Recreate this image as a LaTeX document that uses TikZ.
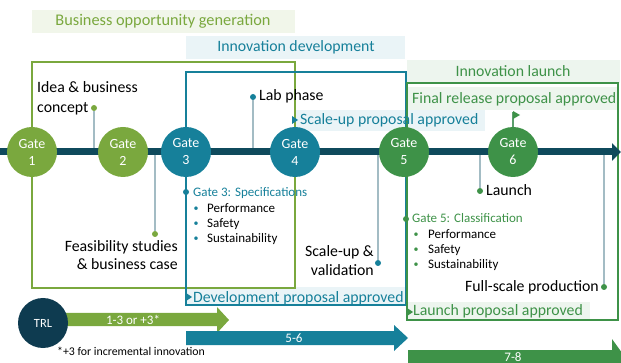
\documentclass[tikz,border=0pt]{standalone}
\usepackage{fontspec}
\setmainfont{Carlito}
\usetikzlibrary{arrows.meta}
\definecolor{lgreen}{HTML}{7AA83E}
\definecolor{tealc}{HTML}{16809A}
\definecolor{dgreen}{HTML}{3E9248}
\definecolor{navyl}{HTML}{0F4A5C}
\definecolor{trlc}{HTML}{0E3B50}
\definecolor{connc}{HTML}{A3BCC4}
\definecolor{bgG}{HTML}{F1F6EA}
\definecolor{bgB}{HTML}{EAF4F7}
\definecolor{bgD}{HTML}{EDF5EE}
\tikzset{
  gate/.style={circle, minimum size=50pt, inner sep=0pt, text=white, align=center, font=\fontsize{14}{17}\selectfont},
  dotn/.style={circle, inner sep=0pt, minimum size=6pt},
  conn/.style={draw=connc, line width=1.2pt},
  frame/.style={line width=1.5pt},
  big/.style={inner sep=0pt, font=\fontsize{15.8}{18}\selectfont},
  head/.style={inner sep=0pt, font=\fontsize{16.3}{18}\selectfont},
  small/.style={inner sep=0pt, font=\fontsize{13}{15}\selectfont},
  tiny/.style={inner sep=0pt, font=\fontsize{11.8}{13}\selectfont},
  bul/.style={inner sep=0pt, font=\fontsize{10}{11}\selectfont}
}
\begin{document}
\begin{tikzpicture}[x=1pt,y=-1pt]
\useasboundingbox (0,0) rectangle (621,363);
% label backgrounds
\fill[bgG] (32,10) rectangle (295,33);
\fill[bgB] (186,36) rectangle (405,59);
\fill[bgD] (407,60) rectangle (620,83);
\fill[bgD] (408,87) rectangle (617,110);
\fill[bgB] (295,110) rectangle (485,131);
\fill[bgB] (186,287) rectangle (405,305);
\fill[bgD] (407,302) rectangle (590,320);
% phase frames
\draw[lgreen, frame] (32,62) rectangle (295,288);
\draw[tealc, frame] (186,72) rectangle (406,305);
\draw[dgreen, frame] (407,83) rectangle (618,320);
% connector coordinates on the timeline
\coordinate (t-idea) at (94,152);
\coordinate (t-feas) at (155,152);
\coordinate (t-lab) at (253,152);
\coordinate (t-scale) at (378,152);
\coordinate (t-launch) at (480,152);
\coordinate (t-full) at (604,152);
\coordinate (t-start) at (0,152);
\coordinate (t-end) at (621,152);
% dots
\node[dotn, fill=lgreen] (d-idea) at (94,108) {};
\node[dotn, fill=lgreen] (d-feas) at (155,234) {};
\node[dotn, fill=tealc] (d-lab) at (253,97) {};
\node[dotn, fill=tealc] (d-scale) at (378,263) {};
\node[dotn, fill=dgreen] (d-launch) at (480,191) {};
\node[dotn, fill=dgreen] (d-full) at (604,287) {};
\draw[conn] (d-idea) -- (t-idea);
\draw[conn] (d-feas) -- (t-feas);
\draw[conn] (d-lab) -- (t-lab);
\draw[conn] (d-scale) -- (t-scale);
\draw[conn] (d-launch) -- (t-launch);
\draw[conn] (d-full) -- (t-full);
% timeline
\draw[navyl, line width=7pt, -{Triangle[length=9pt,width=17pt]}] (t-start) -- (t-end);
% gate 6 flag
\coordinate (flagtop) at (513,112);
\draw[conn, draw=dgreen!70!connc] (513,127) -- (flagtop);
\fill[dgreen] (513,111) -- (520,115) -- (513,119) -- cycle;
% gates
\node[gate, fill=lgreen] (g1) at (32,152) {Gate\\1};
\node[gate, fill=lgreen] (g2) at (123,152) {Gate\\2};
\node[gate, fill=tealc] (g3) at (186,152) {Gate\\3};
\node[gate, fill=tealc] (g4) at (295,152) {Gate\\4};
\node[gate, fill=dgreen] (g5) at (404,152) {Gate\\5};
\node[gate, fill=dgreen] (g6) at (513,152) {Gate\\6};
% phase titles
\node[head, text=lgreen] (h1) at (163,21) {Business opportunity generation};
\node[big, text=tealc] (h2) at (296,47) {Innovation development};
\node[big, text=dgreen] (h3) at (513,71) {Innovation launch};
% milestone texts
\node[big, anchor=base west] (idea1) at (37,93) {Idea \& business};
\node[big, anchor=base west] (idea2) at (37,113) {concept};
\node[big, anchor=base west] (lab) at (259,101) {Lab phase};
\node[big, anchor=base east] (feas1) at (178,252) {Feasibility studies};
\node[big, anchor=base east] (feas2) at (178,270) {\& business case};
\node[big, anchor=base east] (sc1) at (374,257) {Scale-up \&};
\node[big, anchor=base east] (sc2) at (374,276) {validation};
\node[big, anchor=base west] (launch) at (486,196) {Launch};
\node[big, anchor=base east] (full) at (599,292) {Full-scale production};
% gate 3 specs
\node[dotn, fill=tealc] (d-g3) at (186,192) {};
\node[small, anchor=base west, text=tealc] (spec) at (193,197) {Gate 3: Specifications};
\node[bul, text=tealc] (b31) at (196,209) {•};
\node[bul, text=tealc] (b32) at (196,224) {•};
\node[bul, text=tealc] (b33) at (196,239) {•};
\node[small, anchor=base west] (p31) at (207,213) {Performance};
\node[small, anchor=base west] (p32) at (207,228) {Safety};
\node[small, anchor=base west] (p33) at (207,243) {Sustainability};
% gate 5 classification
\node[dotn, fill=dgreen] (d-g5) at (406,219) {};
\node[small, anchor=base west, text=dgreen] (cls) at (412,223) {Gate 5: Classification};
\node[bul, text=dgreen] (b51) at (416,235) {•};
\node[bul, text=dgreen] (b52) at (416,250) {•};
\node[bul, text=dgreen] (b53) at (416,265) {•};
\node[small, anchor=base west] (p51) at (428,239) {Performance};
\node[small, anchor=base west] (p52) at (428,254) {Safety};
\node[small, anchor=base west] (p53) at (428,269) {Sustainability};
% approvals
\fill[tealc] (292,116) -- (298,120) -- (292,124) -- cycle;
\node[big, anchor=base west, text=tealc] (ap1) at (300,125) {Scale-up proposal approved};
\node[big, anchor=base west, text=dgreen] (ap2) at (412,104) {Final release proposal approved};
\fill[tealc] (186,293) -- (192,297) -- (186,301) -- cycle;
\node[big, anchor=base west, text=tealc] (ap3) at (193,302) {Development proposal approved};
\fill[dgreen] (407,308) -- (413,312) -- (407,316) -- cycle;
\node[big, anchor=base west, text=dgreen] (ap4) at (413,316) {Launch proposal approved};
% TRL arrows
\begin{scope}
\clip (0,0) rectangle (621,363);
\fill[lgreen] (57,313) -- (217,313) -- (217,307) -- (229,320) -- (217,333) -- (217,326) -- (57,326) -- cycle;
\fill[tealc] (186,331) -- (394,331) -- (394,325) -- (408,338) -- (394,351) -- (394,345) -- (186,345) -- cycle;
\fill[dgreen] (408,350) -- (612,350) -- (612,339) -- (625,357) -- (612,375) -- (612,364) -- (408,364) -- cycle;
\end{scope}
\node[circle, fill=trlc, minimum size=50pt, inner sep=0pt, text=white, font=\fontsize{12.5}{14}\selectfont] (trl) at (43,323) {TRL};
\node[small, anchor=base, text=white] (a1) at (133,324) {1-3 or +3*};
\node[small, anchor=base, text=white] (a2) at (294,342) {5-6};
\node[small, anchor=base, text=white] (a3) at (513,361) {7-8};
\node[tiny, anchor=base west] (fn) at (57,355) {*+3 for incremental innovation};
\end{tikzpicture}
\end{document}
